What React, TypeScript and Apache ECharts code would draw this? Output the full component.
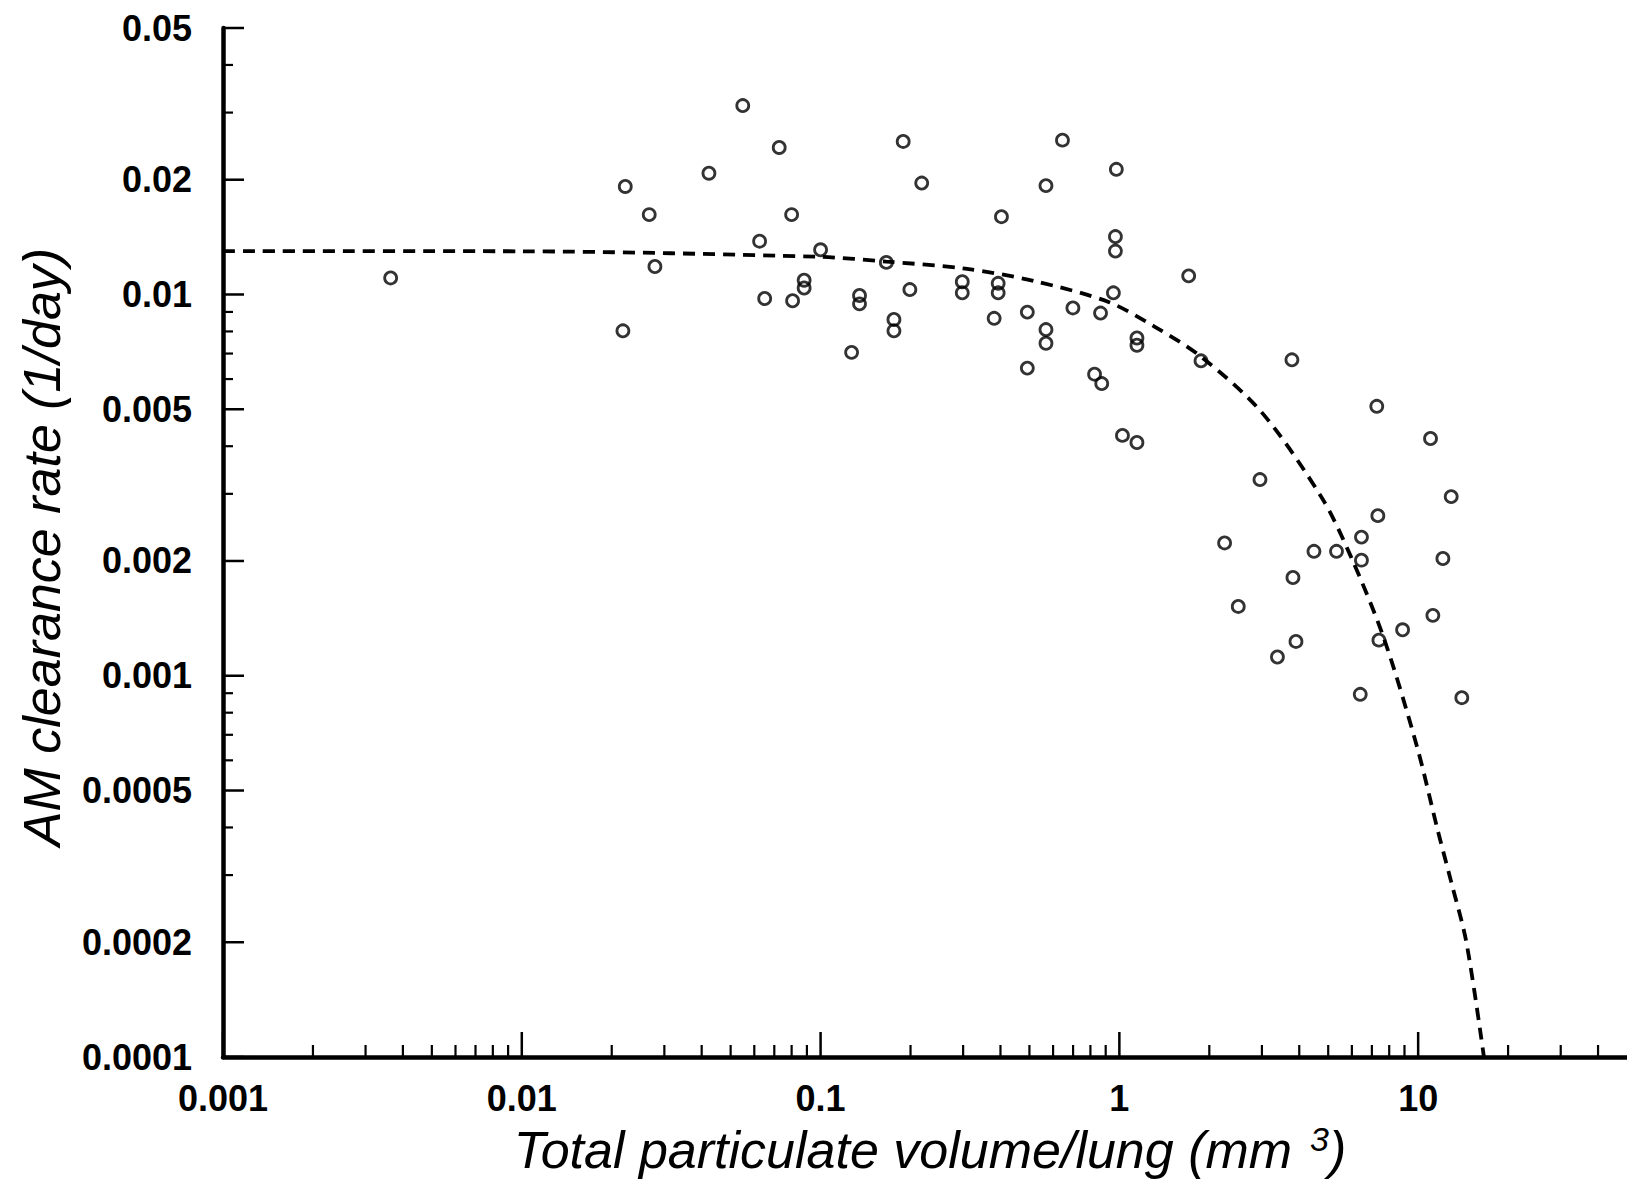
import React, { useEffect, useRef } from "react";
import * as echarts from "echarts";

// ---- Data ----
const pointX = [
  0.00364, 0.0222, 0.0218, 0.0267, 0.0279, 0.0423, 0.0549, 0.0727, 0.0625, 0.065,
  0.080, 0.0806, 0.0881, 0.0881, 0.1, 0.127, 0.135, 0.135, 0.166, 0.176,
  0.176, 0.189, 0.199, 0.218, 0.298, 0.298, 0.381, 0.393, 0.393, 0.403,
  0.492, 0.492, 0.568, 0.568, 0.568, 0.645, 0.699, 0.826, 0.873, 0.865,
  0.977, 0.97, 0.97, 0.955, 1.024, 1.145, 1.145, 1.145, 1.706, 1.876,
  2.955, 2.25, 2.5, 3.38, 3.78, 3.81, 3.9, 4.48, 5.33, 6.46,
  6.46, 6.4, 7.27, 7.33, 7.39, 8.87, 11.0, 11.2, 12.1, 12.9,
  14.0,
];
const pointY = [
  0.01105, 0.0192, 0.00803, 0.0162, 0.01184, 0.0208, 0.0313, 0.0243, 0.0138, 0.00976,
  0.0162, 0.00963, 0.0109, 0.0104, 0.0131, 0.00705, 0.00994, 0.00945, 0.01214, 0.0086,
  0.00803, 0.0252, 0.0103, 0.0196, 0.0108, 0.0101, 0.00866, 0.0107, 0.0101, 0.016,
  0.00899, 0.00641, 0.0193, 0.00809, 0.00745, 0.0254, 0.00922, 0.00618, 0.00584, 0.00894,
  0.0213, 0.01419, 0.013, 0.0101, 0.00427, 0.00409, 0.00769, 0.00736, 0.01119, 0.0067,
  0.00327, 0.00223, 0.00152, 0.00112, 0.00674, 0.00181, 0.00123, 0.00212, 0.00212, 0.00231,
  0.00201, 0.000894, 0.00509, 0.00263, 0.00124, 0.00132, 0.00419, 0.00144, 0.00203, 0.00295,
  0.000876,
];

const curveX = [0.001, 0.01, 0.1, 0.166, 0.305, 0.52, 0.916, 1.31, 1.876, 2.98, 4.76, 5.96, 7.69, 9.92, 11.6, 12.9, 14.5, 16.6];
const curveY = [0.013, 0.01298, 0.01255, 0.0122, 0.01169, 0.01084, 0.00957, 0.00824, 0.00687, 0.00493, 0.00293, 0.00205, 0.00125, 0.00065, 0.000396, 0.000288, 0.0002, 0.0001];

const xMin = 0.001;
const xMax = 50;
const yMin = 0.0001;
const yMax = 0.05;

const xMajorTicks = [0.001, 0.01, 0.1, 1, 10];
const xMinorTicks = [
  0.002, 0.003, 0.004, 0.005, 0.006, 0.007, 0.008, 0.009,
  0.02, 0.03, 0.04, 0.05, 0.06, 0.07, 0.08, 0.09,
  0.2, 0.3, 0.4, 0.5, 0.6, 0.7, 0.8, 0.9,
  2, 3, 4, 5, 6, 7, 8, 9,
  20, 30, 40,
];
const xTickLabels = ["0.001", "0.01", "0.1", "1", "10"];

const yMajorTicks = [0.0001, 0.0002, 0.0005, 0.001, 0.002, 0.005, 0.01, 0.02, 0.05];
const yMinorTicks = [0.0003, 0.0004, 0.0006, 0.0007, 0.0008, 0.0009, 0.003, 0.004, 0.006, 0.007, 0.008, 0.009, 0.03, 0.04];
const yTickLabels = ["0.0001", "0.0002", "0.0005", "0.001", "0.002", "0.005", "0.01", "0.02", "0.05"];

const FONT = '"Liberation Sans", Arial, Helvetica, sans-serif';

function tickSeries(values: number[], axis: "x" | "y", len: number, width: number) {
  return {
    type: "custom",
    coordinateSystem: "cartesian2d",
    silent: true,
    z: 5,
    data: values.map((v) => (axis === "x" ? [v, yMin] : [xMin, v])),
    renderItem: (params: any, api: any) => {
      const p = api.coord([api.value(0), api.value(1)]);
      const shape =
        axis === "x"
          ? { x1: p[0], y1: p[1], x2: p[0], y2: p[1] - len }
          : { x1: p[0], y1: p[1], x2: p[0] + len, y2: p[1] };
      return { type: "line", shape, style: { stroke: "#000", lineWidth: width } };
    },
  };
}

function labelSeries(values: number[], labels: string[], axis: "x" | "y") {
  return {
    type: "custom",
    coordinateSystem: "cartesian2d",
    silent: true,
    z: 5,
    data: values.map((v) => (axis === "x" ? [v, yMin] : [xMin, v])),
    renderItem: (params: any, api: any) => {
      const p = api.coord([api.value(0), api.value(1)]);
      const text = labels[params.dataIndex];
      return {
        type: "text",
        x: axis === "x" ? p[0] : p[0] - 31,
        y: axis === "x" ? p[1] + 41 : p[1],
        style: {
          text,
          fontSize: 36,
          fontWeight: "bold",
          fontFamily: FONT,
          align: axis === "x" ? "center" : "right",
          verticalAlign: "middle",
          fill: "#000",
        },
      };
    },
  };
}

export default function App() {
  const ref = useRef<HTMLDivElement>(null);

  useEffect(() => {
    if (!ref.current) return;
    const chart = echarts.init(ref.current, null, { renderer: "svg" });
    chart.setOption({
      animation: false,
      backgroundColor: "#fff",
      grid: { left: 223, top: 28, width: 1428, height: 1029, containLabel: false },
      xAxis: {
        type: "log",
        logBase: 10,
        min: xMin,
        max: xMax,
        axisLine: { show: true, onZero: false, lineStyle: { color: "#000", width: 4.5 } },
        axisTick: { show: false },
        axisLabel: { show: false },
        splitLine: { show: false },
      },
      yAxis: {
        type: "log",
        logBase: 10,
        min: yMin,
        max: yMax,
        axisLine: { show: true, onZero: false, lineStyle: { color: "#000", width: 4.5 } },
        axisTick: { show: false },
        axisLabel: { show: false },
        splitLine: { show: false },
      },
      graphic: [
        {
          type: "text",
          x: 42,
          y: 547,
          rotation: Math.PI / 2,
          style: {
            text: "AM clearance rate (1/day)",
            fontSize: 52,
            fontStyle: "italic",
            fontFamily: FONT,
            align: "center",
            verticalAlign: "middle",
            fill: "#000",
          },
        },
        {
          type: "text",
          x: 930,
          y: 1150,
          style: {
            text: "Total particulate volume/lung (mm{sup|3})",
            fontSize: 52,
            fontStyle: "italic",
            fontFamily: FONT,
            align: "center",
            verticalAlign: "middle",
            lineHeight: 56,
            fill: "#000",
            rich: {
              sup: {
                fontSize: 34,
                fontStyle: "italic",
                fontFamily: FONT,
                verticalAlign: "top",
                lineHeight: 30,
                padding: [0, 0, 0, 18],
                fill: "#000",
              },
            },
          },
        },
      ],
      series: [
        tickSeries(xMajorTicks, "x", 25, 2.5),
        tickSeries(xMinorTicks, "x", 12, 2.2),
        tickSeries(yMajorTicks, "y", 21, 2.5),
        tickSeries(yMinorTicks, "y", 10, 2.2),
        labelSeries(xMajorTicks, xTickLabels, "x"),
        labelSeries(yMajorTicks, yTickLabels, "y"),
        {
          type: "line",
          data: curveX.map((x, i) => [x, curveY[i]]),
          showSymbol: false,
          smooth: 0.3,
          silent: true,
          z: 3,
          lineStyle: { color: "#000", width: 3.8, type: [12, 8] },
        },
        {
          type: "scatter",
          data: pointX.map((x, i) => [x, pointY[i]]),
          symbol: "circle",
          symbolSize: 12,
          silent: true,
          z: 4,
          itemStyle: { color: "rgba(0,0,0,0)", borderColor: "#000", borderWidth: 2.8 },
        },
      ],
    });
    return () => chart.dispose();
  }, []);

  return (
    <div
      ref={ref}
      style={{ position: "fixed", left: 0, top: 0, width: 1627, height: 1188, background: "#fff" }}
    />
  );
}
